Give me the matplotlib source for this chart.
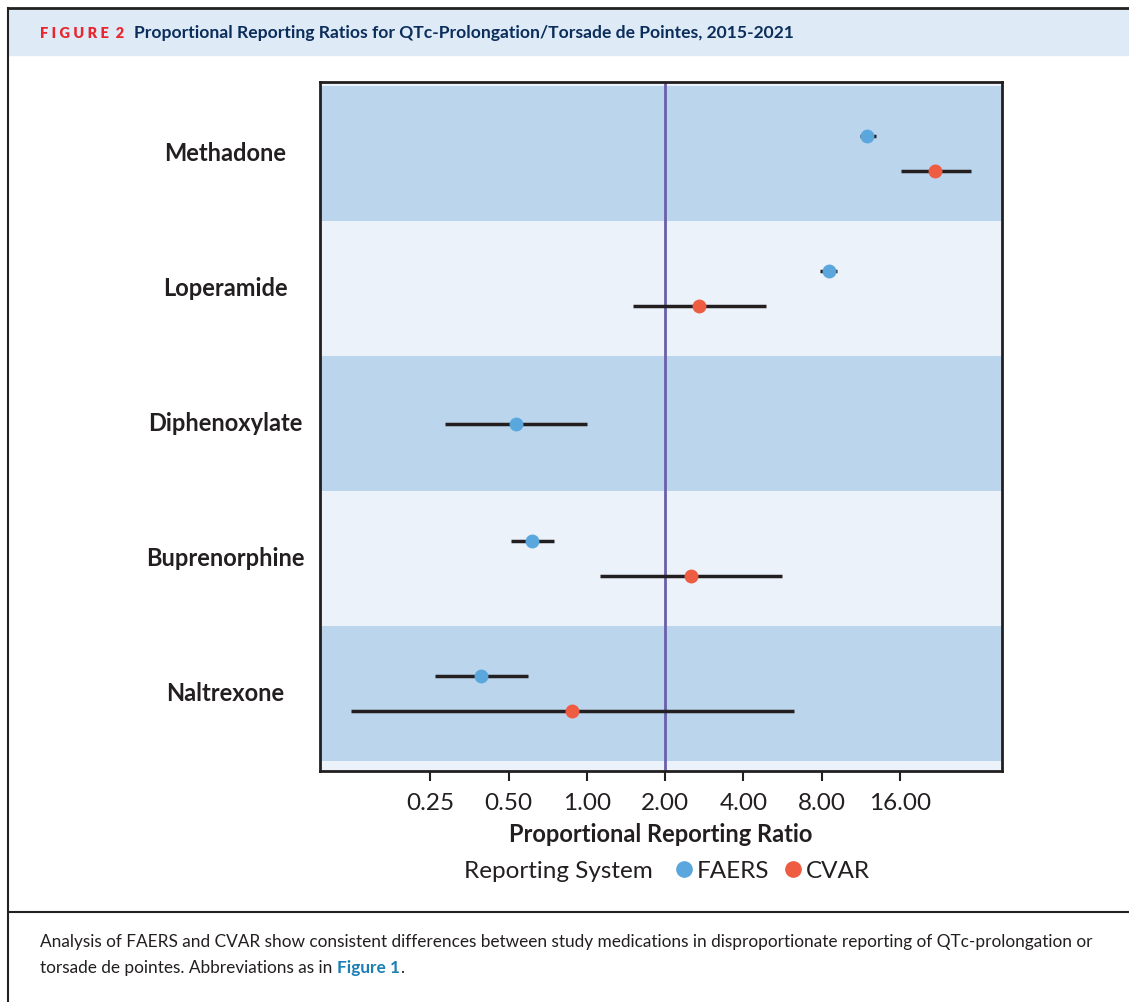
import numpy as np
import matplotlib.pyplot as plt
from matplotlib.lines import Line2D
from matplotlib.ticker import FixedLocator, NullLocator

plt.rcParams['font.family'] = ['Lato', 'DejaVu Sans']

# data (PRR with 95% CI)
drugs = ['Methadone', 'Loperamide', 'Diphenoxylate', 'Buprenorphine', 'Naltrexone']
faers_prr = [12.0, 8.5, 0.535, 0.616, 0.392]
faers_lo = [11.2, 7.9, 0.285, 0.512, 0.260]
faers_hi = [12.9, 9.2, 1.00, 0.748, 0.595]
cvar_prr = [21.8, 2.70, np.nan, 2.52, 0.877]
cvar_lo = [16.1, 1.51, np.nan, 1.125, 0.124]
cvar_hi = [29.9, 4.89, np.nan, 5.63, 6.27]
xticks = [0.25, 0.5, 1, 2, 4, 8, 16]

dark = '#231F20'
c_faers = '#5AA7DE'
c_cvar = '#EE5C42'

fig = plt.figure(figsize=(11.29, 10.02), dpi=100)

# header band and frame
fig.patches.append(plt.Rectangle((8/1129, 1-55/1002), 1, 47/1002, transform=fig.transFigure,
                                 color='#DEEAF6', zorder=0))
fig.lines.append(Line2D([8/1129, 1], [1-8/1002]*2, transform=fig.transFigure, color='#222', lw=2))
fig.lines.append(Line2D([8/1129]*2, [0, 1-8/1002], transform=fig.transFigure, color='#222', lw=1.5))
fig.lines.append(Line2D([8/1129, 1], [1-912/1002]*2, transform=fig.transFigure, color='#222', lw=1.5))
fig.text(40/1129, 1-33/1002, 'F I G U R E  2', color='#E8262F', fontsize=10.5, weight='heavy', va='center')
fig.text(134/1129, 1-33/1002, 'Proportional Reporting Ratios for QTc-Prolongation/Torsade de Pointes, 2015-2021',
         color='#0B2D5B', fontsize=12.6, weight='bold', va='center')

fs_cap = 12.4
fig.text(40/1129, 1-942/1002, 'Analysis of FAERS and CVAR show consistent differences between study medications '
         'in disproportionate reporting of QTc-prolongation or', color=dark, fontsize=fs_cap, va='center')
t = fig.text(40/1129, 1-968/1002, 'torsade de pointes. Abbreviations as in ', color=dark, fontsize=fs_cap, va='center')
fig.canvas.draw()
bb = t.get_window_extent()
t2 = fig.text(bb.x1/1129, 1-968/1002, 'Figure 1', color='#1A7FB5', fontsize=fs_cap, weight='bold', va='center')
bb2 = t2.get_window_extent()
fig.text(bb2.x1/1129, 1-968/1002, '.', color=dark, fontsize=fs_cap, va='center')

ax = fig.add_axes([320/1129, 1-771/1002, 682/1129, 689/1002])
ax.set_facecolor('#EBF2FA')
ax.set_xscale('log', base=2)
ax.set_xlim(0.094, 39.5)
ax.set_ylim(4.574, -0.53)

y = np.arange(len(drugs))
for i in y:
    if i % 2 == 0:
        ax.axhspan(i-0.5, i+0.5, color='#BBD5ED', zorder=0, lw=0)

ax.axvline(2, color='#6A5FA8', lw=2, zorder=1)

# dodge only where both systems have an estimate
has_cvar = ~np.isnan(np.array(cvar_prr))
off = np.where(has_cvar, 0.13, 0.0)
ax.hlines(y-off, faers_lo, faers_hi, color=dark, lw=2.5, zorder=2)
ax.plot(faers_prr, y-off, 'o', color=c_faers, ms=9, zorder=3)
ax.hlines(y+off, cvar_lo, cvar_hi, color=dark, lw=2.5, zorder=2)
ax.plot(cvar_prr, y+off, 'o', color=c_cvar, ms=9, zorder=3)

ax.xaxis.set_major_locator(FixedLocator(xticks))
ax.xaxis.set_minor_locator(NullLocator())
ax.set_xticklabels(['%.2f' % v for v in xticks], fontsize=17.5, color=dark)
ax.tick_params(axis='x', length=7, width=1.5, color=dark, pad=9)
ax.set_yticks([])
for s in ax.spines.values():
    s.set_linewidth(2)
    s.set_color(dark)

for i, d in enumerate(drugs):
    ax.text(-0.139, i, d, transform=ax.get_yaxis_transform(), ha='center', va='center',
            fontsize=17, weight='bold', color=dark)

ax.set_xlabel('Proportional Reporting Ratio', fontsize=17, weight='bold', color=dark, labelpad=6)

fig.text(558/1129, 1-871/1002, 'Reporting System', fontsize=17.5, color=dark, ha='center', va='center')
handles = [Line2D([], [], marker='o', ls='', color=c_faers, ms=11),
           Line2D([], [], marker='o', ls='', color=c_cvar, ms=11)]
fig.legend(handles, ['FAERS', 'CVAR'], loc='center left', bbox_to_anchor=(660/1129, 1-871/1002),
           ncol=2, frameon=False, fontsize=17.5, handletextpad=0.0, columnspacing=0.5,
           handlelength=1.0, borderpad=0, labelcolor=dark)

fig.savefig('out.png', dpi=100)
